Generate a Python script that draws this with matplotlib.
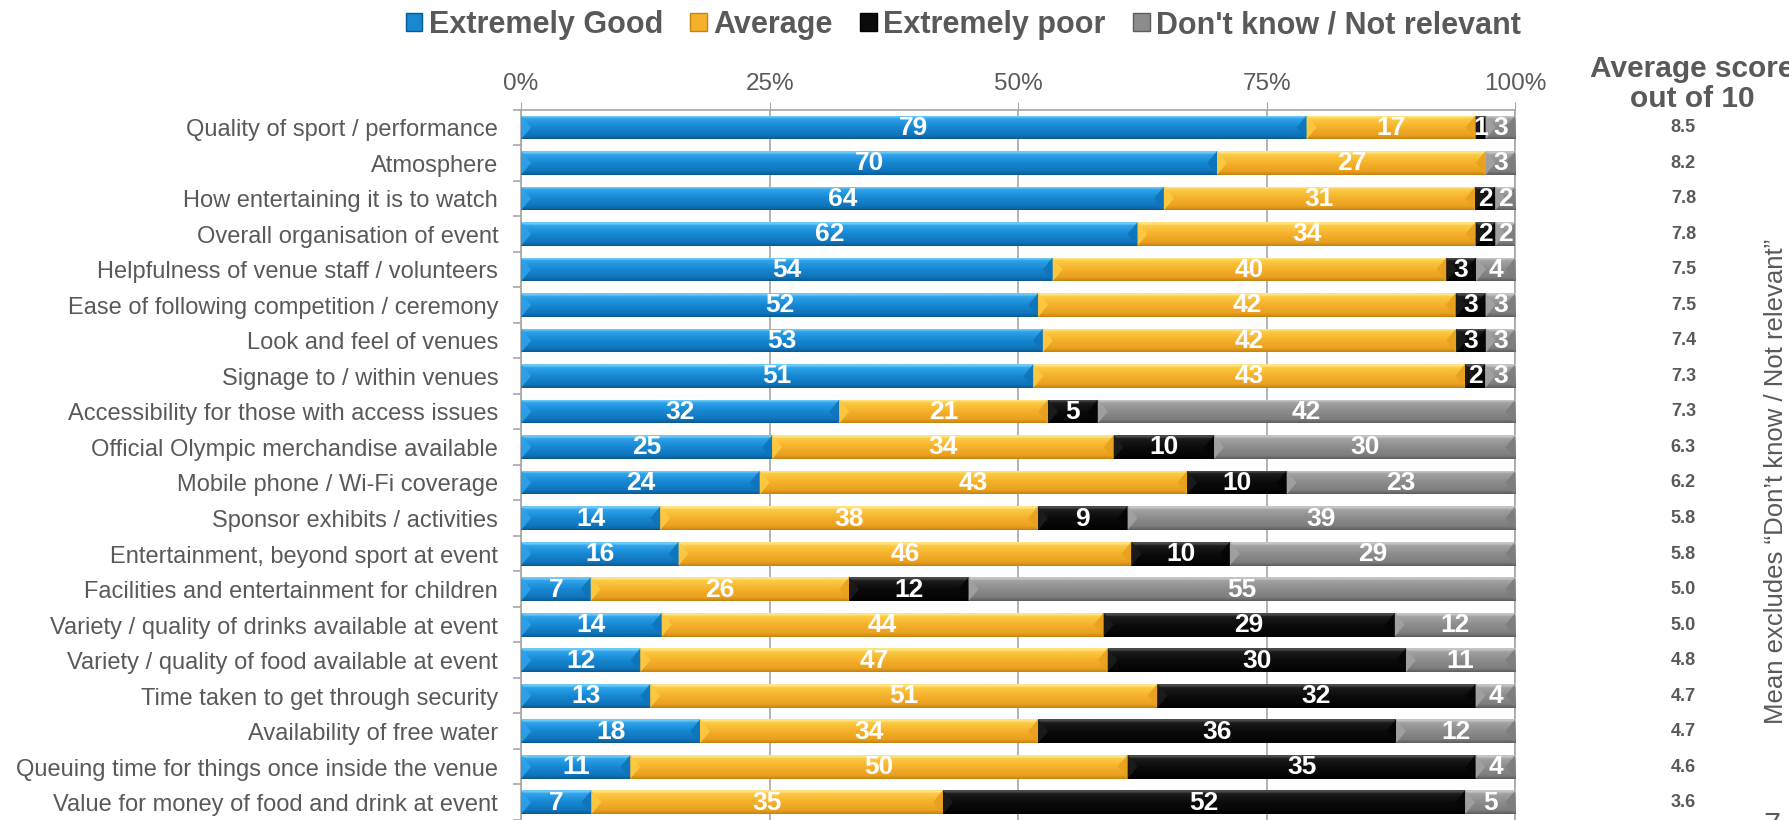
import numpy as np
import matplotlib
matplotlib.use("Agg")
import matplotlib.pyplot as plt
from matplotlib.patches import Patch, Polygon
from matplotlib.colors import LinearSegmentedColormap
from matplotlib.transforms import Bbox

plt.rcParams['font.family'] = ['Liberation Sans', 'DejaVu Sans']

attributes = [
    "Quality of sport / performance",
    "Atmosphere",
    "How entertaining it is to watch",
    "Overall organisation of event",
    "Helpfulness of venue staff / volunteers",
    "Ease of following competition / ceremony",
    "Look and feel of venues",
    "Signage to / within venues",
    "Accessibility for those with access issues",
    "Official Olympic merchandise available",
    "Mobile phone / Wi-Fi coverage",
    "Sponsor exhibits / activities",
    "Entertainment, beyond sport at event",
    "Facilities and entertainment for children",
    "Variety / quality of drinks available at event",
    "Variety / quality of food available at event",
    "Time taken to get through security",
    "Availability of free water",
    "Queuing time for things once inside the venue",
    "Value for money of food and drink at event",
]
extremely_good = [79, 70, 64, 62, 54, 52, 53, 51, 32, 25, 24, 14, 16, 7, 14, 12, 13, 18, 11, 7]
average = [17, 27, 31, 34, 40, 42, 42, 43, 21, 34, 43, 38, 46, 26, 44, 47, 51, 34, 50, 35]
extremely_poor = [1, 0, 2, 2, 3, 3, 3, 2, 5, 10, 10, 9, 10, 12, 29, 30, 32, 36, 35, 52]
dont_know = [3, 3, 2, 2, 4, 3, 3, 3, 42, 30, 23, 39, 29, 55, 12, 11, 4, 12, 4, 5]
avg_score = [8.5, 8.2, 7.8, 7.8, 7.5, 7.5, 7.4, 7.3, 7.3, 6.3, 6.2, 5.8, 5.8, 5.0, 5.0, 4.8, 4.7, 4.7, 4.6, 3.6]

series_names = ["Extremely Good", "Average", "Extremely poor", "Don't know / Not relevant"]

# highlight, upper, face, lower, shade
shades = [
    ("#6cc8f7", "#2ea3ea", "#1787d2", "#0f74ba", "#0a5a92"),
    ("#ffe283", "#fcca42", "#f6b12b", "#e9a01f", "#c58310"),
    ("#4a4a4a", "#1c1c1c", "#0b0b0b", "#050505", "#000000"),
    ("#c4c4c4", "#a2a2a2", "#8c8c8c", "#7d7d7d", "#5d5d5d"),
]

TEXT = "#595959"
GRID = "#a6a6a6"

values = np.array([extremely_good, average, extremely_poor, dont_know], dtype=float)
shares = values / values.sum(axis=0) * 100
rows = np.arange(len(attributes))

W, H = 1789, 820
fig = plt.figure(figsize=((W + 0.4) / 100, (H + 0.4) / 100), dpi=100)
ax = fig.add_axes([521 / W, 0, 994 / W, 710 / H])

bar_h = 0.67
bevel = 1.0  # in percent units along x

left = np.zeros(len(attributes))
for k, name in enumerate(series_names):
    hi, up, face, low, sh = shades[k]
    cmap = LinearSegmentedColormap.from_list(
        name, [(0, hi), (0.07, hi), (0.14, up), (0.5, face), (0.85, low), (1.0, sh)])
    grad = np.linspace(0, 1, 64)[:, None]
    bars = ax.barh(rows, shares[k], left=left, height=bar_h, color=face,
                   edgecolor="none", zorder=2)
    for i, rect in enumerate(bars):
        w = shares[k][i]
        if values[k][i] <= 0:
            continue
        x0, x1 = left[i], left[i] + w
        top, bot = rows[i] - bar_h / 2, rows[i] + bar_h / 2
        im = ax.imshow(grad, cmap=cmap, aspect="auto", origin="upper",
                       extent=(x0, x1, bot, top), interpolation="bilinear", zorder=3)
        im.set_clip_path(rect)
        b = min(bevel, w / 2)
        ax.add_patch(Polygon([(x0, top), (x0 + b, rows[i]), (x0, bot)],
                             closed=True, facecolor=up, edgecolor="none",
                             alpha=0.9, zorder=4))
        ax.add_patch(Polygon([(x1, top), (x1 - b, rows[i]), (x1, bot)],
                             closed=True, facecolor=low, edgecolor="none",
                             alpha=0.9, zorder=4))
        ax.text(x0 + w / 2, rows[i], f"{int(values[k][i])}", ha="center", va="center",
                color="white", fontsize=19, fontweight="bold", zorder=5)
    left += shares[k]

ax.set_xlim(0, 100)
ax.set_ylim(-0.475 + 710 / 35.77, -0.475)

ax.xaxis.tick_top()
ax.set_xticks([0, 25, 50, 75, 100])
ax.set_xticklabels(["0%", "25%", "50%", "75%", "100%"])
ax.tick_params(axis="x", colors=GRID, labelcolor=TEXT, labelsize=17.5, length=6, pad=5)
ax.grid(axis="x", color=GRID, lw=1.2, zorder=0)
ax.set_axisbelow(True)

ax.set_yticks(rows)
ax.set_yticklabels(attributes)
ax.tick_params(axis="y", which="major", length=0, pad=16.5, labelsize=17, labelcolor=TEXT)
ax.set_yticks(np.arange(-0.5, len(attributes)), minor=True)
ax.tick_params(axis="y", which="minor", length=6, color=GRID, width=1.2)

for side in ("top", "left", "right"):
    ax.spines[side].set_color(GRID)
    ax.spines[side].set_linewidth(1.2)
ax.spines["bottom"].set_visible(False)

# average score column
score_tr = ax.get_yaxis_transform()
for i, s in enumerate(avg_score):
    ax.text((1683 - 521) / 994, rows[i], f"{s:.1f}", transform=score_tr,
            ha="center", va="center", fontsize=13, fontweight="bold", color=TEXT)

head = fig.text(1692 / W, 1 - 84 / H, "Average score\nout of 10", ha="center", va="center",
                fontsize=21.5, fontweight="bold", color=TEXT, linespacing=1.05)
head.set_clip_box(Bbox.from_extents(1500, H - 108, W + 10, H + 10))
head.set_clip_on(True)

fig.text(1776 / W, 1 - 481 / H, "Mean excludes \u201cDon\u2019t know / Not relevant\u201d",
         rotation=90, ha="center", va="center", fontsize=18.5, color=TEXT)
fig.text(1763 / W, 1 - 812 / H, "7", ha="left", va="top", fontsize=22, color=TEXT)

handles = [Patch(facecolor=shades[k][2], edgecolor=shades[k][4], lw=1) for k in range(4)]
fig.legend(handles, series_names, loc="center", bbox_to_anchor=(963 / W, 1 - 25 / H),
           ncol=4, frameon=False, handlelength=0.55, handleheight=0.55,
           handletextpad=0.2, columnspacing=0.9, borderaxespad=0,
           prop={"size": 22, "weight": "bold"}, labelcolor=TEXT)

fig.savefig("out.png", dpi=100)
